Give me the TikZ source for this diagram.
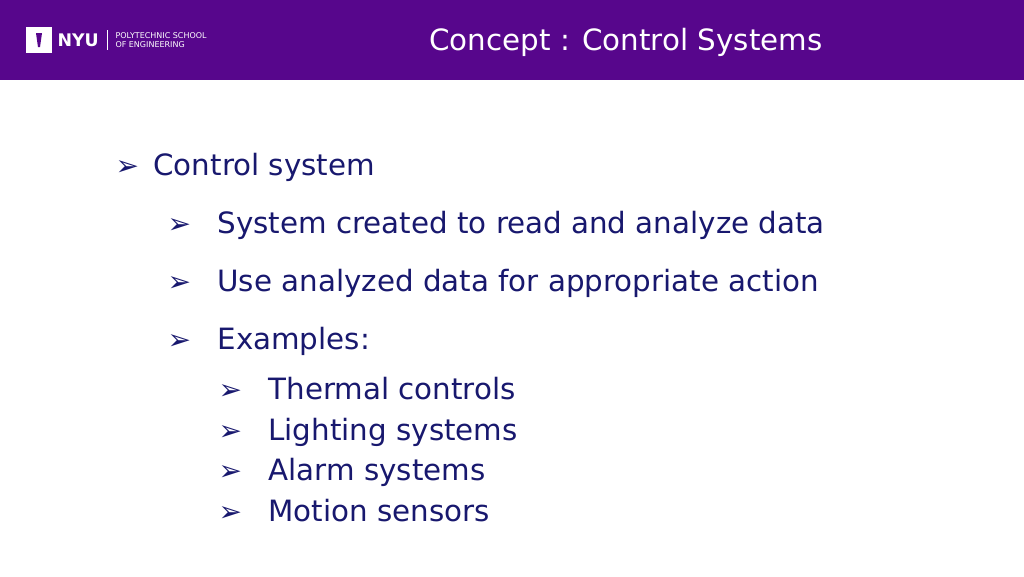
\documentclass[tikz,border=0pt]{standalone}
\usepackage{fontspec}
\setmainfont{DejaVu Sans}
\newfontfamily\symfont{DejaVu Sans}
\definecolor{nyuviolet}{RGB}{87,6,140}
\definecolor{bodyblue}{RGB}{24,24,110}
\tikzset{every picture/.style={line width=0.75pt}}
\tikzset{
  lvlone/.style={anchor=base west,inner sep=0pt,text=bodyblue,font=\fontsize{22}{26}\selectfont},
  lvlthree/.style={anchor=base west,inner sep=0pt,text=bodyblue,font=\fontsize{22}{26}\selectfont},
  arrowbullet/.style={anchor=base west,inner sep=0pt,text=bodyblue,font=\symfont\bfseries\fontsize{21}{24}\selectfont}
}
\begin{document}
\begin{tikzpicture}[x=0.75pt,y=0.75pt,yscale=-1,xscale=1]
\useasboundingbox (0,0) rectangle (1024,576);
\fill[white] (0,0) rectangle (1024,576);
%Header band
\fill[nyuviolet] (0,0) rectangle (1024,80);
%Logo
\fill[white] (26,27) rectangle (52,53);
\fill[nyuviolet] (36,33) -- (42,33) -- (40,47) -- (38,47) -- cycle;
\node[anchor=west,inner sep=0pt,text=white,font=\bfseries\fontsize{13}{16}\selectfont] (nyu) at (57,40) {NYU};
\draw[white,line width=0.5pt] (107,30) -- (107,50);
\node[anchor=west,inner sep=0pt,text=white,font=\fontsize{6}{7}\selectfont,align=left] (school) at (115,40) {POLYTECHNIC SCHOOL\\OF ENGINEERING};
% Title
\node[inner sep=0pt,text=white,font=\fontsize{22}{26}\selectfont] (title) at (626,42) {Concept : Control Systems};
% Bullets
\node[arrowbullet] (b1) at (115,175) {➢};
\node[lvlone] (t1) at (153,175) {Control system};
\foreach \y/\txt [count=\i] in {233/System created to read and analyze data,291/Use analyzed data for appropriate action,349/Examples:}{
  \node[arrowbullet] (bb\i) at (167,\y) {➢};
  \node[lvlone] (tt\i) at (217,\y) {\txt};
}
\foreach \y/\txt [count=\i] in {399/Thermal controls,440/Lighting systems,480/Alarm systems,521/Motion sensors}{
  \node[arrowbullet] (bc\i) at (218,\y) {➢};
  \node[lvlthree] (tc\i) at (268,\y) {\txt};
}
\end{tikzpicture}
\end{document}
